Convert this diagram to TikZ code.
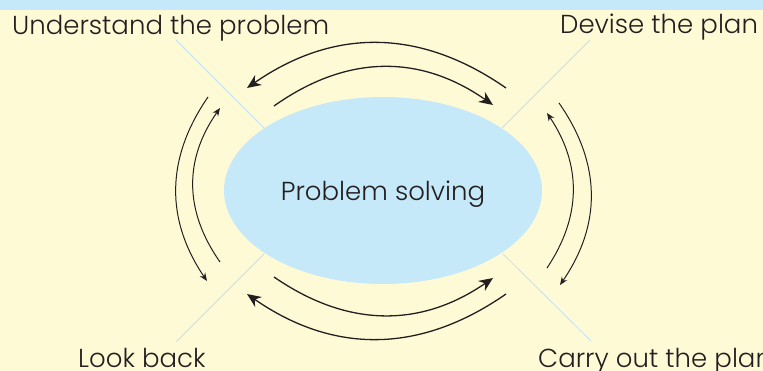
\documentclass[tikz,border=0pt]{standalone}
\usepackage{fontspec}
\setmainfont{Poppins}[UprightFont={* Light}]
\usetikzlibrary{shapes.geometric,arrows.meta}
\definecolor{bgyellow}{HTML}{FFFAD6}
\definecolor{psblue}{HTML}{C5E9F9}
\definecolor{diagblue}{HTML}{BFE3F4}
\definecolor{ink}{HTML}{231F20}
\tikzset{
  lbl/.style={inner sep=0pt, text=ink, font=\fontsize{26}{30}\selectfont},
  bigarrow/.style={draw=ink, line width=1.3pt, -{Stealth[length=14pt,width=12pt]}},
  smallarrow/.style={draw=ink, line width=1pt, -{Stealth[length=8pt,width=6.5pt]}},
  diag/.style={draw=diagblue, line width=0.8pt},
}
\begin{document}
\begin{tikzpicture}[x=1pt,y=-1pt]
\useasboundingbox (0,0) rectangle (763,371);
\fill[bgyellow] (0,0) rectangle (763,371);
\fill[psblue] (0,0) rectangle (763,10);
% diagonal guide lines
\coordinate (tl1) at (176,40); \coordinate (tl2) at (264,128);
\coordinate (tr1) at (590,40); \coordinate (tr2) at (502,128);
\coordinate (bl1) at (264,254); \coordinate (bl2) at (176,342);
\coordinate (br1) at (503,254); \coordinate (br2) at (591,341);
\draw[diag] (tl1) -- (tl2);
\draw[diag] (tr1) -- (tr2);
\draw[diag] (bl1) -- (bl2);
\draw[diag] (br1) -- (br2);
% central ellipse
\node[ellipse, fill=psblue, inner sep=0pt, minimum width=318pt, minimum height=187pt] (ps) at (383,190.5) {};
\node[lbl, anchor=base] (pstext) at (383,201) {Problem solving};
% labels
\node[lbl, anchor=base west] (understand) at (12,35) {Understand the problem};
\node[lbl, anchor=base west] (devise) at (560,34) {Devise the plan};
\node[lbl, anchor=base west] (lookback) at (78,367) {Look back};
\node[lbl, anchor=base west] (carry) at (538,367) {Carry out the plan};
% arrow end points
\coordinate (to1) at (506,88);  \coordinate (to2) at (247,88);
\coordinate (ti1) at (274,106); \coordinate (ti2) at (493,105);
\coordinate (bo1) at (506,294); \coordinate (bo2) at (247,294);
\coordinate (bi1) at (274,277); \coordinate (bi2) at (493,278);
\coordinate (lo1) at (208,97);  \coordinate (lo2) at (207,281);
\coordinate (li1) at (220,262); \coordinate (li2) at (220,108);
\coordinate (ro1) at (559,103); \coordinate (ro2) at (560,285);
\coordinate (ri1) at (547,268); \coordinate (ri2) at (547,113);
% arrows
\draw[bigarrow] (to1) .. controls (419.67,28) and (333.33,28) .. (to2);
\draw[bigarrow] (ti1) .. controls (347,54.33) and (420,54) .. (ti2);
\draw[bigarrow] (bo1) .. controls (419.67,354) and (333.33,354) .. (bo2);
\draw[bigarrow] (bi1) .. controls (347,327.33) and (420,328.33) .. (bi2);
\draw[smallarrow] (lo1) .. controls (165.67,158.33) and (165.33,219.67) .. (lo2);
\draw[smallarrow] (li1) .. controls (184,210.67) and (184,159.33) .. (li2);
\draw[smallarrow] (ro1) .. controls (601.33,163.67) and (601.67,224.33) .. (ro2);
\draw[smallarrow] (ri1) .. controls (581.67,216.33) and (581.67,164.67) .. (ri2);
\end{tikzpicture}
\end{document}
